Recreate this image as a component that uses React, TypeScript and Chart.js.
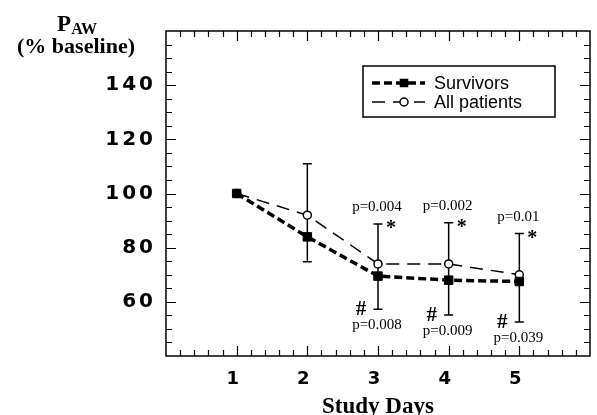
import React, { useEffect, useRef } from 'react';
import { Chart, registerables } from 'chart.js';

Chart.register(...registerables);

// ---- data ----
const days = [1, 2, 3, 4, 5];
const survivors = [100, 84, 69.5, 68, 67.5];
const allPatients = [100, 92, 74, 74, 70];
const allPatientsUpper = [null, 111, 88.7, 89.2, 85.2];
const survivorsLower = [null, 74.8, 57.3, 55.1, 52.6];
const pAbove = [null, null, 'p=0.004', 'p=0.002', 'p=0.01'];
const pBelow = [null, null, 'p=0.008', 'p=0.009', 'p=0.039'];
const starMarks = [null, null, '*', '*', '*'];
const hashMarks = [null, null, '#', '#', '#'];
const xTickValues = [1, 2, 3, 4, 5];
const yTickValues = [60, 80, 100, 120, 140];
const seriesNames = ['Survivors', 'All patients'];
const xAxisTitle = 'Study Days';
const yTitleMain = 'P';
const yTitleSub = 'AW';
const yTitleUnit = '(% baseline)';

const SERIF = '"Liberation Serif", "Times New Roman", serif';
const SANS = '"Liberation Sans", Arial, sans-serif';
const TICKSANS = '"DejaVu Sans", Verdana, sans-serif';

const plotPlugin = {
  id: 'plotDecor',
  beforeDraw(chart: any) {
    const ys = chart.scales.y;
    if (ys && !ys.__spaced) {
      const orig = ys.drawLabels;
      ys.drawLabels = function (area: any) {
        const c = this.ctx;
        c.save();
        c.letterSpacing = '3px';
        orig.call(this, area);
        c.restore();
      };
      ys.__spaced = true;
    }
  },
  beforeDatasetsDraw(chart: any) {
    const { ctx, chartArea: a, scales } = chart;
    const xs = scales.x;
    const ys = scales.y;
    ctx.save();
    ctx.strokeStyle = '#000';
    ctx.lineWidth = 1.5;
    ctx.strokeRect(a.left, a.top, a.right - a.left, a.bottom - a.top);
    ctx.lineWidth = 1.2;
    // x ticks (every 0.2 day), inward on bottom and top
    for (let i = 1; i < 30; i++) {
      const v = i * 0.2;
      const px = Math.round(xs.getPixelForValue(v)) + 0.5;
      const len = i % 5 === 0 ? 10 : 6;
      ctx.beginPath();
      ctx.moveTo(px, a.bottom);
      ctx.lineTo(px, a.bottom - len);
      ctx.moveTo(px, a.top);
      ctx.lineTo(px, a.top + len);
      ctx.stroke();
    }
    // y ticks (every 5), inward on left and right
    for (let i = 1; i < 24; i++) {
      const v = 40 + i * 5;
      const py = Math.round(ys.getPixelForValue(v)) + 0.5;
      const len = v % 20 === 0 ? 10 : 6;
      ctx.beginPath();
      ctx.moveTo(a.left, py);
      ctx.lineTo(a.left + len, py);
      ctx.moveTo(a.right, py);
      ctx.lineTo(a.right - len, py);
      ctx.stroke();
    }
    // error bars
    ctx.lineWidth = 1.5;
    days.forEach((d, i) => {
      const hi = allPatientsUpper[i];
      const lo = survivorsLower[i];
      if (hi == null || lo == null) return;
      const px = xs.getPixelForValue(d);
      const pyH = ys.getPixelForValue(hi);
      const pyL = ys.getPixelForValue(lo);
      ctx.beginPath();
      ctx.moveTo(px, pyH);
      ctx.lineTo(px, pyL);
      ctx.moveTo(px - 4.5, pyH);
      ctx.lineTo(px + 4.5, pyH);
      ctx.moveTo(px - 4.5, pyL);
      ctx.lineTo(px + 4.5, pyL);
      ctx.stroke();
    });
    ctx.restore();
  },
  afterDraw(chart: any) {
    const { ctx, chartArea: a, scales } = chart;
    const xs = scales.x;
    const ys = scales.y;
    ctx.save();
    ctx.fillStyle = '#000';
    ctx.strokeStyle = '#000';

    // annotations
    days.forEach((d, i) => {
      const px = xs.getPixelForValue(d);
      const hi = allPatientsUpper[i];
      const lo = survivorsLower[i];
      if (hi != null) {
        const pyH = ys.getPixelForValue(hi);
        if (pAbove[i]) {
          ctx.font = `15px ${SERIF}`;
          ctx.textAlign = 'center';
          ctx.textBaseline = 'alphabetic';
          ctx.fillText(pAbove[i] as string, px - 1, pyH - 13);
        }
        if (starMarks[i]) {
          ctx.font = `bold 20px ${SERIF}`;
          ctx.textAlign = 'center';
          ctx.textBaseline = 'alphabetic';
          ctx.fillText(starMarks[i] as string, px + 13, pyH + 10);
        }
      }
      if (lo != null) {
        const pyL = ys.getPixelForValue(lo);
        if (hashMarks[i]) {
          ctx.font = `bold 21px ${SERIF}`;
          ctx.textAlign = 'center';
          ctx.textBaseline = 'alphabetic';
          ctx.fillText(hashMarks[i] as string, px - 17, pyL + 6);
        }
        if (pBelow[i]) {
          ctx.font = `15px ${SERIF}`;
          ctx.textAlign = 'center';
          ctx.textBaseline = 'alphabetic';
          ctx.fillText(pBelow[i] as string, px - 1, pyL + 20);
        }
      }
    });

    // legend
    const lx = a.left + 197;
    const ly = a.top + 35;
    const lw = 192;
    const lh = 51;
    ctx.fillStyle = '#fff';
    ctx.fillRect(lx, ly, lw, lh);
    ctx.lineWidth = 1.5;
    ctx.setLineDash([]);
    ctx.strokeRect(lx, ly, lw, lh);
    ctx.fillStyle = '#000';
    chart.data.datasets.forEach((ds: any, i: number) => {
      const cy = ly + 17 + i * 19;
      const x0 = lx + 9;
      const x1 = lx + 62;
      const mx = lx + 41;
      ctx.save();
      ctx.lineWidth = ds.borderWidth;
      ctx.setLineDash(ds.borderDash || []);
      ctx.beginPath();
      ctx.moveTo(x0, cy);
      ctx.lineTo(x1, cy);
      ctx.stroke();
      ctx.setLineDash([]);
      if (ds.pointStyle === 'rect') {
        const s = ds.pointRadius * Math.SQRT1_2;
        ctx.fillStyle = ds.pointBackgroundColor;
        ctx.fillRect(mx - s, cy - s, 2 * s, 2 * s);
      } else {
        ctx.beginPath();
        ctx.arc(mx, cy, ds.pointRadius, 0, Math.PI * 2);
        ctx.fillStyle = ds.pointBackgroundColor;
        ctx.fill();
        ctx.lineWidth = ds.pointBorderWidth;
        ctx.stroke();
      }
      ctx.restore();
      ctx.font = `18px ${SANS}`;
      ctx.textAlign = 'left';
      ctx.textBaseline = 'middle';
      ctx.fillStyle = '#000';
      ctx.fillText(ds.label, lx + 71, cy + 1);
    });

    // y axis title (horizontal, top-left)
    ctx.textBaseline = 'alphabetic';
    ctx.textAlign = 'left';
    ctx.font = `bold 23px ${SERIF}`;
    const wP = ctx.measureText(yTitleMain).width;
    ctx.font = `bold 16px ${SERIF}`;
    const wS = ctx.measureText(yTitleSub).width;
    const cx = 77;
    const sx = cx - (wP + wS) / 2;
    ctx.font = `bold 23px ${SERIF}`;
    ctx.fillText(yTitleMain, sx, 31);
    ctx.font = `bold 16px ${SERIF}`;
    ctx.fillText(yTitleSub, sx + wP, 34);
    ctx.font = `bold 22px ${SERIF}`;
    ctx.textAlign = 'center';
    ctx.fillText(yTitleUnit, 76, 53);
    ctx.restore();
  },
};

export default function App() {
  const ref = useRef<HTMLCanvasElement | null>(null);
  useEffect(() => {
    if (!ref.current) return;
    const chart = new Chart(ref.current, {
      type: 'line',
      data: {
        datasets: [
          {
            label: seriesNames[0],
            data: days.map((d, i) => ({ x: d, y: survivors[i] })),
            borderColor: '#000',
            borderWidth: 3.5,
            borderDash: [8, 4],
            pointStyle: 'rect',
            pointRadius: 6,
            pointBackgroundColor: '#000',
            pointBorderColor: '#000',
            pointBorderWidth: 1,
            tension: 0,
          },
          {
            label: seriesNames[1],
            data: days.map((d, i) => ({ x: d, y: allPatients[i] })),
            borderColor: '#000',
            borderWidth: 1.5,
            borderDash: [13, 8],
            pointStyle: 'circle',
            pointRadius: 4,
            pointBackgroundColor: '#fff',
            pointBorderColor: '#000',
            pointBorderWidth: 1.5,
            tension: 0,
          },
        ],
      },
      options: {
        animation: false,
        responsive: false,
        events: [],
        layout: { padding: { top: 31, right: 1, left: 0, bottom: 0 } },
        plugins: { legend: { display: false }, tooltip: { enabled: false }, title: { display: false } },
        scales: {
          x: {
            type: 'linear',
            min: 0,
            max: 6,
            grid: { display: false, drawTicks: false },
            border: { display: false },
            afterBuildTicks: (s: any) => {
              s.ticks = xTickValues.map((v) => ({ value: v }));
            },
            afterFit: (s: any) => {
              s.height = 59;
            },
            ticks: {
              padding: 13,
              labelOffset: -4,
              color: '#000',
              font: { family: TICKSANS, size: 18, weight: 'bold' },
              maxRotation: 0,
            },
            title: {
              display: true,
              text: xAxisTitle,
              color: '#000',
              font: { family: SERIF, size: 23, weight: 'bold', lineHeight: 0.68 },
              padding: { top: 0, bottom: 0 },
            },
          },
          y: {
            type: 'linear',
            min: 40,
            max: 160,
            grid: { display: false, drawTicks: false },
            border: { display: false },
            afterBuildTicks: (s: any) => {
              s.ticks = yTickValues.map((v) => ({ value: v }));
            },
            afterFit: (s: any) => {
              s.width = 166;
            },
            ticks: {
              padding: 10,
              color: '#000',
              font: { family: TICKSANS, size: 20, weight: 'bold' },
            },
          },
        },
      },
      plugins: [plotPlugin],
    } as any);
    return () => chart.destroy();
  }, []);
  return (
    <div style={{ position: 'absolute', left: 0, top: 0, width: 597, height: 415, background: '#fff' }}>
      <canvas ref={ref} width={597} height={415} />
    </div>
  );
}
